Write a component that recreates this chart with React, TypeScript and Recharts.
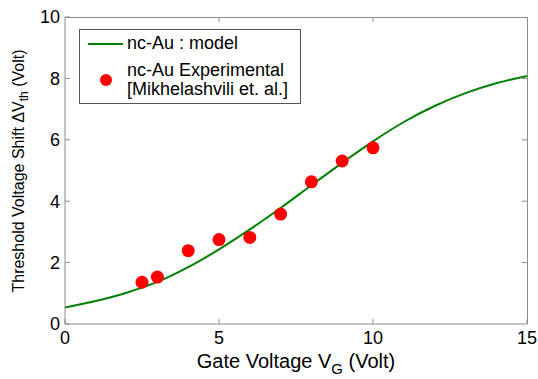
import { ComposedChart, Line, Scatter, XAxis, YAxis, ReferenceLine } from 'recharts'

// model curve (nc-Au : model)
const modelVg = [0, 1, 2, 3, 4, 5, 6, 7, 8, 9, 10, 11, 12, 13, 14, 15]
const modelShift = [0.54, 0.75, 1.02, 1.37, 1.85, 2.43, 3.08, 3.78, 4.52, 5.25, 5.95, 6.58, 7.1, 7.52, 7.84, 8.08]

// experimental points [Mikhelashvili et. al.]
const expVg = [2.5, 3, 4, 5, 6, 7, 8, 9, 10]
const expShift = [1.36, 1.53, 2.39, 2.75, 2.82, 3.58, 4.63, 5.31, 5.74]

const xTicks = [0, 5, 10, 15]
const yTicks = [0, 2, 4, 6, 8, 10]

const modelData = modelVg.map((vg, i) => ({ vg, shift: modelShift[i] }))
const expData = expVg.map((vg, i) => ({ vg, shift: expShift[i] }))

const W = 538
const H = 379
const M_TOP = 17
const M_RIGHT = 11
const Y_AXIS_W = 65
const X_AXIS_H = 55

const FONT = '"Liberation Sans", Arial, sans-serif'
const BOX = '#8c8c8c'
const TICK = 5

const XLabel = () => (
  <text x={296} y={368} textAnchor="middle" fontSize={20} fontFamily={FONT} fill="#000">
    Gate Voltage V<tspan fontSize={15} dy={6}>G</tspan>
    <tspan dy={-6}> (Volt)</tspan>
  </text>
)

const YLabel = () => (
  <text x={24} y={171} textAnchor="middle" fontSize={16} fontFamily={FONT} fill="#000"
    transform="rotate(-90 24 171)">
    Threshold Voltage Shift ΔV<tspan fontSize={12} dy={4}>th</tspan>
    <tspan dy={-4}> (Volt)</tspan>
  </text>
)

// inward tick at the top of the box
const TopTick = (p: any) => {
  const y = Math.min(p.y1, p.y2)
  return <line x1={p.x1} x2={p.x1} y1={y} y2={y + TICK} stroke={BOX} strokeWidth={1} />
}

// inward tick at the right side of the box
const RightTick = (p: any) => {
  const x = Math.max(p.x1, p.x2)
  return <line x1={x} x2={x - TICK} y1={p.y1} y2={p.y1} stroke={BOX} strokeWidth={1} />
}

const LegendBox = () => (
  <div style={{
    position: 'absolute', left: 79, top: 29, width: 220, height: 73, border: '1px solid #555',
    background: '#fff', fontFamily: FONT, fontSize: 18, color: '#000', lineHeight: '19px',
  }}>
    <svg width={220} height={73} style={{ position: 'absolute', left: 0, top: 0 }}>
      <line x1={8} y1={14} x2={43} y2={14} stroke="#008000" strokeWidth={2} />
      <circle cx={26} cy={50} r={6} fill="#ff0000" />
    </svg>
    <div style={{ position: 'absolute', left: 47, top: 4, whiteSpace: 'nowrap' }}>nc-Au : model</div>
    <div style={{ position: 'absolute', left: 47, top: 31, whiteSpace: 'nowrap' }}>
      nc-Au Experimental<br />[Mikhelashvili et. al.]
    </div>
  </div>
)

export default function App() {
  const tickStyle = { fontSize: 18, fontFamily: FONT, fill: '#000' }
  return (
    <div style={{ position: 'absolute', left: 0, top: 0, width: W, height: H, background: '#fff' }}>
      <ComposedChart width={W} height={H} data={modelData}
        margin={{ top: M_TOP, right: M_RIGHT, bottom: 0, left: 0 }}>
        <XAxis dataKey="vg" type="number" domain={[0, 15]} ticks={xTicks} height={X_AXIS_H}
          stroke={BOX} tickSize={-TICK} tickMargin={12} tick={tickStyle}
          label={<XLabel />} />
        <YAxis type="number" domain={[0, 10]} ticks={yTicks} width={Y_AXIS_W}
          stroke={BOX} tickSize={-TICK} tickMargin={10} tick={tickStyle}
          label={<YLabel />} />
        {xTicks.slice(1, -1).map(t => (
          <ReferenceLine key={'tx' + t} x={t} stroke={BOX} shape={TopTick} />
        ))}
        {yTicks.slice(1, -1).map(t => (
          <ReferenceLine key={'ty' + t} y={t} stroke={BOX} shape={RightTick} />
        ))}
        <Line data={modelData} dataKey="shift" type="monotone" stroke="#008000" strokeWidth={2}
          dot={false} activeDot={false} isAnimationActive={false} />
        <Scatter data={expData} dataKey="shift" fill="#ff0000" isAnimationActive={false}
          shape={(p: any) => <circle cx={p.cx} cy={p.cy} r={6.5} fill="#ff0000" />} />
      </ComposedChart>
      {/* top and right sides of the MATLAB style box */}
      <div style={{
        position: 'absolute', left: Y_AXIS_W, top: M_TOP, boxSizing: 'border-box',
        width: W - Y_AXIS_W - M_RIGHT + 1, height: H - M_TOP - X_AXIS_H,
        borderTop: `1px solid ${BOX}`, borderRight: `1px solid ${BOX}`, pointerEvents: 'none',
      }} />
      <LegendBox />
    </div>
  )
}
